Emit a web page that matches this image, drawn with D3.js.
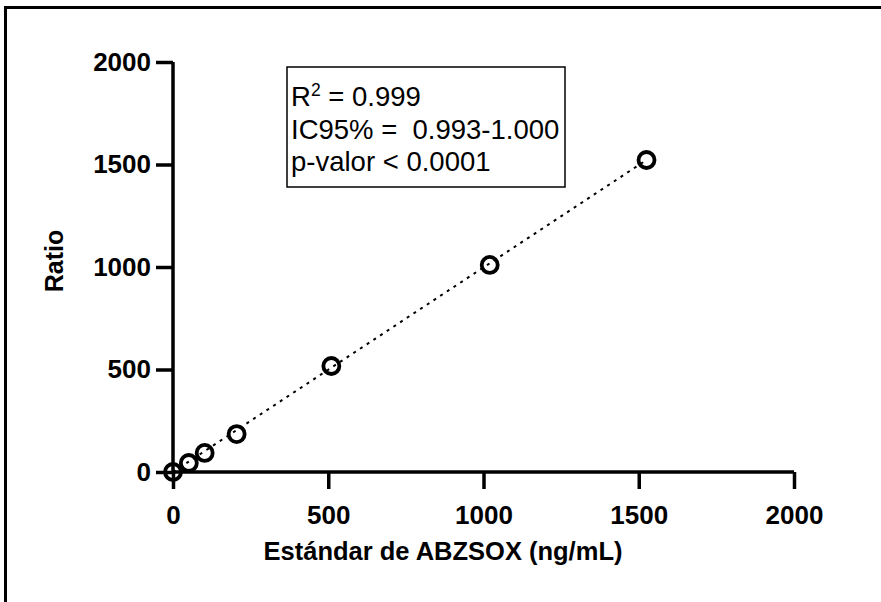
<!DOCTYPE html>
<html>
<head>
    <meta charset="utf-8">
    <title>Estándar de ABZSOX</title>
    <style>
        body {
            margin: 0;
            background: #fff;
        }

        text {
            font-family: 'Liberation Sans', Arial, sans-serif;
        }

        .axis path,
        .axis line {
            fill: none;
            stroke: #000;
            stroke-width: 3.5px;
        }

        .axis text {
            font-family: 'Liberation Sans', Arial, sans-serif;
            font-size: 26px;
            font-weight: bold;
            fill: #000;
        }
    </style>
    <script src="https://d3js.org/d3.v7.min.js"></script>
</head>

<body>
    <script type="text/javascript">
        "use strict";
        // standards (ng/mL) and measured ratio
        const standards = [0, 51, 102, 205, 510, 1020, 1525];
        const ratios = [0, 44, 93, 185, 517, 1010, 1522];
        const xTicks = [0, 500, 1000, 1500, 2000];
        const yTicks = [0, 500, 1000, 1500, 2000];
        const fitLine = [[0, 0], [1525, 1522]];
        const statsLines = ["= 0.999", "IC95% =  0.993-1.000", "p-valor < 0.0001"];

        const W = 881, H = 602;
        const margin = { top: 62, right: 87, bottom: 130, left: 173 },
            width = W - margin.left - margin.right,
            height = H - margin.top - margin.bottom;

        var svg = d3.select("body").append("svg")
            .attr("width", W)
            .attr("height", H);

        // outer frame (cut at right and bottom)
        svg.append("path")
            .attr("d", "M5.5," + H + "V7.5H" + W)
            .attr("fill", "none")
            .attr("stroke", "#000")
            .attr("stroke-width", 3);

        var g = svg.append("g")
            .attr("transform", "translate(" + margin.left + "," + margin.top + ")");

        var x = d3.scaleLinear().domain([0, 2000]).range([0, width]);
        var y = d3.scaleLinear().domain([0, 2000]).range([height, 0]);

        g.append("g")
            .attr("class", "x axis")
            .attr("transform", "translate(0," + height + ")")
            .call(d3.axisBottom(x).tickValues(xTicks).tickFormat(d3.format("d"))
                .tickSize(17).tickSizeOuter(0).tickPadding(17))
            .call(function (a) { a.select(".domain").attr("d", "M0,0H" + width); });

        g.append("g")
            .attr("class", "y axis")
            .call(d3.axisLeft(y).tickValues(yTicks).tickFormat(d3.format("d"))
                .tickSize(17).tickSizeOuter(0).tickPadding(5))
            .call(function (a) { a.select(".domain").attr("d", "M0," + height + "V0"); });

        // axis titles
        svg.append("text")
            .attr("x", 443)
            .attr("y", 560)
            .attr("text-anchor", "middle")
            .style("font-size", "25.5px")
            .style("font-weight", "bold")
            .text("Estándar de ABZSOX (ng/mL)");

        svg.append("text")
            .attr("transform", "translate(63,261) rotate(-90)")
            .attr("text-anchor", "middle")
            .style("font-size", "25px")
            .style("font-weight", "bold")
            .text("Ratio");

        // regression line
        g.append("path")
            .datum(fitLine)
            .attr("d", d3.line().x(function (d) { return x(d[0]); }).y(function (d) { return y(d[1]); }))
            .attr("fill", "none")
            .attr("stroke", "#000")
            .attr("stroke-width", 2)
            .attr("stroke-dasharray", "3,5");

        // points
        g.selectAll(".pt")
            .data(standards)
            .enter().append("circle")
            .attr("class", "pt")
            .attr("cx", function (d) { return x(d); })
            .attr("cy", function (d, i) { return y(ratios[i]); })
            .attr("r", 8)
            .attr("fill", "none")
            .attr("stroke", "#000")
            .attr("stroke-width", 3.8);

        // stats box
        var box = svg.append("g").attr("transform", "translate(287,67)");
        box.append("rect")
            .attr("width", 278)
            .attr("height", 120)
            .attr("fill", "#fff")
            .attr("stroke", "#000")
            .attr("stroke-width", 1.5);

        var r2 = box.append("text")
            .attr("x", 4)
            .attr("y", 39)
            .style("font-size", "27.5px")
            .style("white-space", "pre");
        r2.append("tspan").text("R");
        r2.append("tspan").attr("dy", -10).style("font-size", "17.5px").text("2");
        r2.append("tspan").attr("dy", 10).text(" " + statsLines[0]);

        box.selectAll(".sl")
            .data(statsLines.slice(1))
            .enter().append("text")
            .attr("class", "sl")
            .attr("x", 4)
            .attr("y", function (d, i) { return 72 + i * 32; })
            .style("font-size", "27.5px")
            .style("white-space", "pre")
            .text(function (d) { return d; });
    </script>
</body>
</html>
